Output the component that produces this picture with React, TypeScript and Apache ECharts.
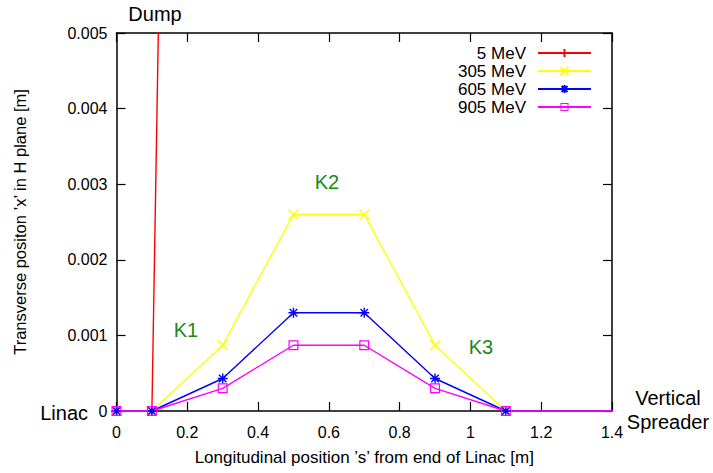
import React, { useEffect, useRef } from "react";
import * as echarts from "echarts";

const xPos = [0, 0.1, 0.3, 0.5, 0.7, 0.9, 1.1, 1.5];
const xPos5 = [0, 0.1, 0.3];
const mev5 = [0, 0, 0.055];
const mev305 = [0, 0, 0.00087, 0.0026, 0.0026, 0.00087, 0, 0];
const mev605 = [0, 0, 0.00043, 0.0013, 0.0013, 0.00043, 0, 0];
const mev905 = [0, 0, 0.0003, 0.00087, 0.00087, 0.0003, 0, 0];
const seriesNames = ["5 MeV", "305 MeV", "605 MeV", "905 MeV"];
const seriesColors = ["#ff0000", "#ffff00", "#0000ff", "#ff00ff"];
const annotations = [
  { text: "Dump", x: 155, y: 14 },
  { text: "K1", x: 186, y: 330 },
  { text: "K2", x: 327, y: 182 },
  { text: "K3", x: 481, y: 347 },
  { text: "Vertical", x: 668, y: 398 },
  { text: "Spreader", x: 668, y: 422 },
];

const FONT = "'Liberation Sans', Arial, Helvetica, sans-serif";

const PLUS = "path://M0,-1L0,1M-1,0L1,0";
const CROSS = "path://M-1,-1L1,1M-1,1L1,-1";
const STAR = "path://M0,-1L0,1M-1,0L1,0M-0.75,-0.75L0.75,0.75M-0.75,0.75L0.75,-0.75";
const SQUARE = "path://M-1,-1L1,-1L1,1L-1,1ZM-0.76,-0.76L-0.76,0.76L0.76,0.76L0.76,-0.76Z";

function zip(xs: number[], ys: number[]) {
  return ys.map((y, i) => [xs[i], y]);
}

export default function App() {
  const ref = useRef<HTMLDivElement>(null);
  useEffect(() => {
    if (!ref.current) return;
    const chart = echarts.init(ref.current, null, { renderer: "svg" });
    const symbols = [PLUS, CROSS, STAR, SQUARE];
    const datas = [zip(xPos5, mev5), zip(xPos, mev305), zip(xPos, mev605), zip(xPos, mev905)];
    const axisCommon = {
      axisLine: { show: true, onZero: false, lineStyle: { color: "#000", width: 1.5 } },
      axisTick: { show: true, inside: true, length: 9, lineStyle: { color: "#000", width: 1.2 } },
      splitLine: { show: false },
    };
    chart.setOption({
      animation: false,
      backgroundColor: "#fff",
      textStyle: { fontFamily: FONT },
      grid: { left: 116.5, right: 101, top: 33, bottom: 62, containLabel: false },
      legend: {
        orient: "vertical",
        align: "right",
        right: 116,
        top: 39,
        itemWidth: 53,
        itemHeight: 10,
        itemGap: 0,
        selectedMode: false,
        data: seriesNames,
        textStyle: { fontSize: 17, color: "#000", fontFamily: FONT, lineHeight: 18, padding: [0, 7, 0, 0] },
      },
      xAxis: [
        {
          type: "value",
          min: 0,
          max: 1.4,
          interval: 0.2,
          position: "bottom",
          ...axisCommon,
          axisLabel: {
            fontSize: 16,
            color: "#000",
            fontFamily: FONT,
            margin: 13,
            formatter: (v: number) => String(Math.round(v * 10) / 10),
          },
          name: "Longitudinal position \u2019s\u2019 from end of Linac [m]",
          nameLocation: "middle",
          nameGap: 38,
          nameTextStyle: { fontSize: 17, color: "#000", fontFamily: FONT },
        },
        {
          type: "value",
          min: 0,
          max: 1.4,
          interval: 0.2,
          position: "top",
          ...axisCommon,
          axisLabel: { show: false },
        },
      ],
      yAxis: [
        {
          type: "value",
          min: 0,
          max: 0.005,
          interval: 0.001,
          position: "left",
          ...axisCommon,
          axisLabel: {
            fontSize: 16,
            color: "#000",
            fontFamily: FONT,
            margin: 9,
            formatter: (v: number) => (v === 0 ? "0" : v.toFixed(3)),
          },
          name: "Transverse positon \u2019x\u2019 in H plane [m]",
          nameLocation: "middle",
          nameGap: 88,
          nameTextStyle: { fontSize: 16.5, color: "#000", fontFamily: FONT },
        },
        {
          type: "value",
          min: 0,
          max: 0.005,
          interval: 0.001,
          position: "right",
          ...axisCommon,
          axisLabel: { show: false },
        },
      ],
      series: seriesNames.map((name, i) => ({
        name,
        type: "line",
        data: datas[i],
        symbol: symbols[i],
        symbolSize: 10,
        showAllSymbol: true,
        clip: true,
        lineStyle: { color: seriesColors[i], width: 1.4 },
        itemStyle: {
          color: seriesColors[i],
          borderColor: seriesColors[i],
          borderWidth: i === 3 ? 0 : 1.4,
        },
        emphasis: { disabled: true },
      })),
      graphic: [
        ...annotations.map((a) => ({
          type: "text",
          x: a.x,
          y: a.y,
          style: {
            text: a.text,
            fontSize: 20,
            fontFamily: FONT,
            fill: a.text.startsWith("K") ? "#1a8a1a" : "#000",
            align: "center",
            verticalAlign: "middle",
          },
        })),
        {
          type: "text",
          x: 88,
          y: 413,
          style: {
            text: "Linac",
            fontSize: 20,
            fontFamily: FONT,
            fill: "#000",
            align: "right",
            verticalAlign: "middle",
          },
        },
      ],
    });
    return () => chart.dispose();
  }, []);
  return (
    <div
      ref={ref}
      style={{ position: "fixed", left: 0, top: 0, width: 713, height: 473 }}
    />
  );
}
